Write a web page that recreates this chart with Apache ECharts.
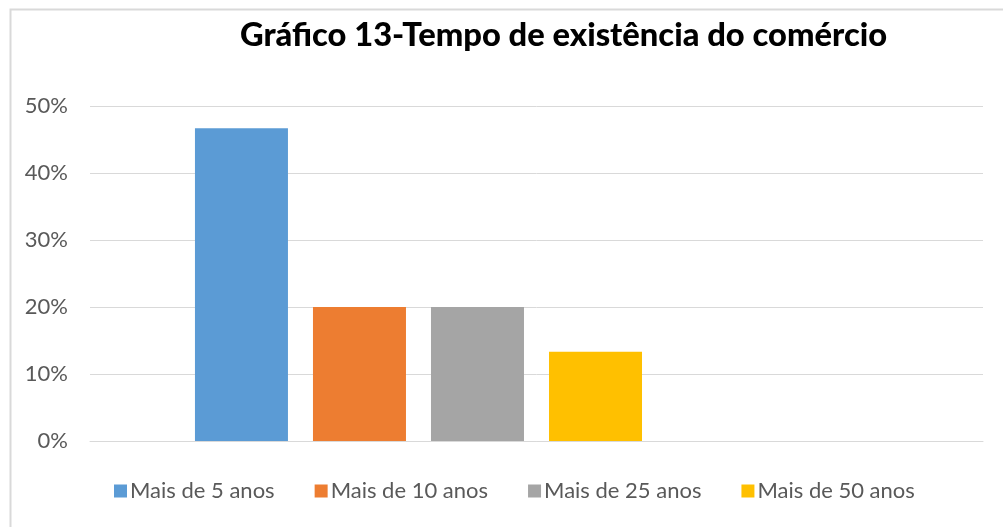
<!DOCTYPE html>
<html>
<head>
<meta charset="utf-8">
<script src="https://cdn.jsdelivr.net/npm/echarts@6/dist/echarts.min.js"></script>
<style>html,body{margin:0;padding:0;background:#fff}#c{width:1003px;height:527px}</style>
</head>
<body>
<div id="c"></div>
<script>
const title = 'Gráfico 13-Tempo de existência do comércio';
const categories = [''];
const seriesNames = ['Mais de 5 anos', 'Mais de 10 anos', 'Mais de 25 anos', 'Mais de 50 anos'];
const seriesValues = [0.4667, 0.20, 0.20, 0.1333];
const seriesColors = ['#5b9bd5', '#ed7d31', '#a5a5a5', '#ffc000'];
const emptySlots = 2; // two empty series slots in the original chart
const yTicks = [0, 0.1, 0.2, 0.3, 0.4, 0.5];

const FONT = 'Lato';
const series = seriesNames.map((n, i) => ({
  name: n, type: 'bar', data: [seriesValues[i]],
  itemStyle: { color: seriesColors[i] },
  barWidth: 93, barGap: '26.9%'
}));
for (let k = 0; k < emptySlots; k++) {
  series.push({ name: 'empty' + k, type: 'bar', data: [null], barWidth: 93, barGap: '26.9%' });
}

const chart = echarts.init(document.getElementById('c'), null, { renderer: 'canvas' });
chart.setOption({
  animation: false,
  backgroundColor: '#ffffff',
  title: {
    text: title, left: 235, top: 14,
    textStyle: { fontFamily: FONT, fontWeight: 900, fontSize: 32.7, color: '#000000' }
  },
  graphic: [{
    type: 'rect', left: 8, top: 7, silent: true,
    shape: { x: 0, y: 0, width: 1100, height: 700 },
    style: { fill: 'none', stroke: '#d9d9d9', lineWidth: 2 }
  }],
  legend: {
    data: seriesNames, bottom: 20, left: 109,
    itemWidth: 13, itemHeight: 13, itemGap: 40,
    icon: 'rect',
    textStyle: { fontFamily: FONT, fontSize: 22, color: '#595959', padding: [0, 0, 0, -2] }
  },
  grid: { left: 90, right: 20, top: 106, bottom: 86 },
  xAxis: {
    type: 'category', data: categories,
    axisLine: { lineStyle: { color: '#d9d9d9', width: 1 } },
    axisTick: { show: false }, axisLabel: { show: false }
  },
  yAxis: {
    type: 'value', min: yTicks[0], max: yTicks[yTicks.length - 1], interval: 0.1,
    axisLine: { show: false }, axisTick: { show: false },
    splitLine: { lineStyle: { color: '#d9d9d9', width: 1 } },
    axisLabel: {
      margin: 22, fontFamily: FONT, fontSize: 22, color: '#595959',
      formatter: v => Math.round(v * 100) + '%'
    }
  },
  series: series
});
</script>
</body>
</html>
